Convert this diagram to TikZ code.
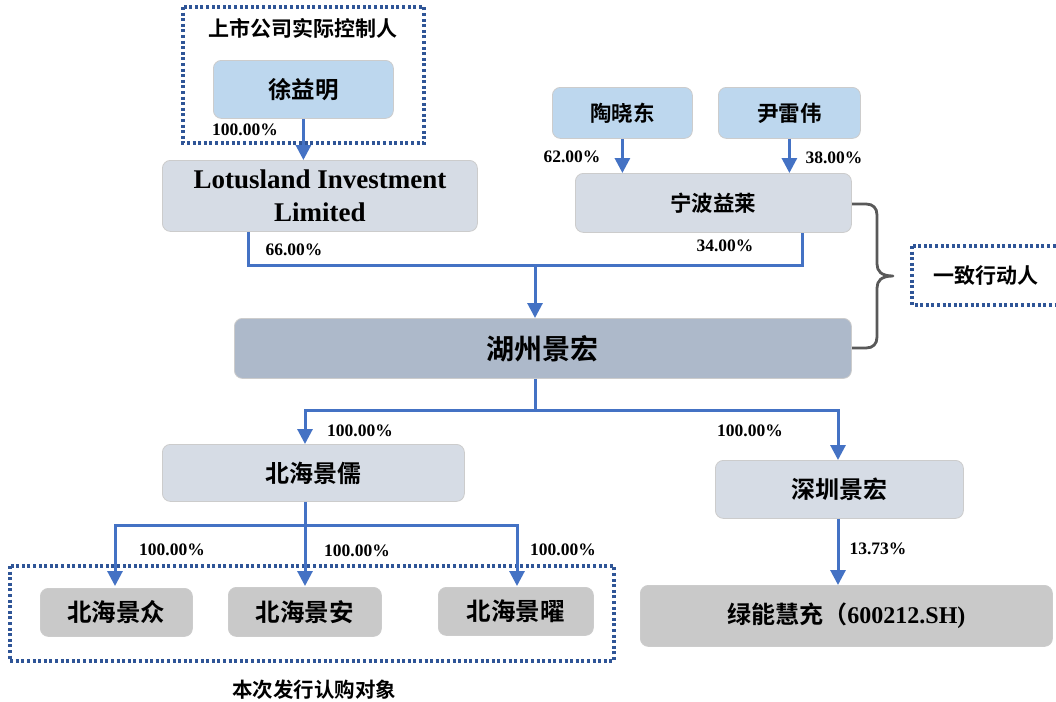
\documentclass[tikz,border=0pt]{standalone}
\usepackage{fontspec}
\setmainfont{Liberation Serif}
\newfontfamily\cjk{Noto Sans CJK SC}[BoldFont={Noto Sans CJK SC Bold}]
\usetikzlibrary{arrows.meta}
\definecolor{arrowblue}{HTML}{4472C4}
\definecolor{dotblue}{HTML}{2F5597}
\definecolor{lightblue}{HTML}{BDD7EE}
\definecolor{greyblue}{HTML}{D6DCE5}
\definecolor{darkgb}{HTML}{ADB9CA}
\definecolor{midgray}{HTML}{C9C9C9}
\tikzset{
  box/.style={rounded corners=8pt, draw=black!20, line width=0.8pt, inner sep=0pt, anchor=north west},
  conn/.style={draw=arrowblue, line width=3pt},
  arr/.style={conn, -{Triangle[length=15pt,width=15pt]}},
  pct/.style={font=\fontsize{17.5}{19}\selectfont\bfseries},
  dotbox/.style={draw=dotblue, line width=3.2pt, dash pattern=on 3pt off 2.6pt},
}
\newcommand{\cbox}[7]{% name, x1, y1, x2, y2, fill, text
  \node[box, fill=#6, minimum width={#4-#2}, minimum height={#5-#3}] (#1) at (#2,#3) {#7};}
\begin{document}
\begin{tikzpicture}[x=1pt,y=-1pt]
\useasboundingbox[fill=white] (0,0) rectangle (1056,701);
% dotted boxes
\draw[dotbox] (183,7) rectangle (424,143);
\node[font=\cjk\bfseries\fontsize{21}{23}\selectfont] (ctrl) at (303,28) {上市公司实际控制人};
\draw[dotbox] (912,246) rectangle (1062,305);
\draw[dotbox] (10,566) rectangle (614,661);
% boxes
\cbox{xu}{213}{60}{393}{118}{lightblue}{\cjk\bfseries\fontsize{23.5}{26}\selectfont 徐益明}
\cbox{lot}{162}{160}{477}{231}{greyblue}{\parbox{310pt}{\centering\bfseries\fontsize{27}{33}\selectfont Lotusland Investment\\Limited}}
\cbox{tao}{552}{87}{692}{138}{lightblue}{\cjk\bfseries\fontsize{21.5}{24}\selectfont 陶晓东}
\cbox{yin}{718}{87}{860}{138}{lightblue}{\cjk\bfseries\fontsize{21.5}{24}\selectfont 尹雷伟}
\cbox{nb}{575}{173}{851}{232}{greyblue}{\cjk\bfseries\fontsize{21.5}{24}\selectfont 宁波益莱}
\cbox{hz}{234}{318}{851}{378}{darkgb}{\cjk\bfseries\fontsize{28}{30}\selectfont 湖州景宏}
\cbox{bhr}{162}{444}{464}{501}{greyblue}{\cjk\bfseries\fontsize{24}{26}\selectfont 北海景儒}
\cbox{sz}{715}{460}{963}{518}{greyblue}{\cjk\bfseries\fontsize{24}{26}\selectfont 深圳景宏}
\cbox{bhz}{40}{588}{192}{636}{midgray}{\cjk\bfseries\fontsize{24.5}{26}\selectfont 北海景众}
\cbox{bha}{228}{587}{381}{636}{midgray}{\cjk\bfseries\fontsize{24.5}{26}\selectfont 北海景安}
\cbox{bhy}{438}{587}{593}{635}{midgray}{\cjk\bfseries\fontsize{24.5}{26}\selectfont 北海景曜}
\cbox{ln}{640}{585}{1052}{646}{midgray}{\bfseries\fontsize{24}{26}\selectfont{\cjk 绿能慧充（}600212.SH)}
\node[font=\cjk\bfseries\fontsize{21}{24}\selectfont] (yz) at (986,276) {一致行动人};
\node[font=\cjk\bfseries\fontsize{20.5}{23}\selectfont] (bc) at (314,690) {本次发行认购对象};
% connectors
\draw[arr] (xu.south) -- (lot.north -| xu.south);
\draw[arr] (tao.south) -- (nb.north -| tao.south);
\draw[arr] (yin.south) -- (nb.north -| yin.south);
\coordinate (j1) at (535,265);
\draw[conn] (lot.south -| 248,0) |- (j1) -| (nb.south -| 802,0);
\draw[arr] (j1) -- (hz.north -| j1);
\coordinate (j2) at (535,410);
\draw[conn] (hz.south -| j2) -- (j2);
\draw[arr] (j2) -| (bhr.north -| 305,0);
\draw[arr] (j2) -| (sz.north -| 838,0);
\coordinate (j3) at (305,525);
\draw[conn] (bhr.south -| j3) -- (j3);
\draw[arr] (j3) -| (115,586);
\draw[arr] (j3) -- (305,586);
\draw[arr] (j3) -| (517,586);
\draw[arr] (sz.south -| 838,0) -- (ln.north -| 838,0);
% brace
\draw[draw=black!65, line width=2.8pt, line join=round]
  (852,204) -- (866,204) .. controls (873,204) and (877,208) .. (877,215)
  -- (877,264) .. controls (877,271) and (881,276) .. (893,276)
  .. controls (881,276) and (877,281) .. (877,288)
  -- (877,337) .. controls (877,344) and (873,348) .. (866,348) -- (852,348);
% labels
\node[pct] (p1) at (245,130) {100.00\%};
\node[pct] (p2) at (572,157) {62.00\%};
\node[pct] (p3) at (834,158) {38.00\%};
\node[pct] (p4) at (294,250) {66.00\%};
\node[pct] (p5) at (725,246) {34.00\%};
\node[pct] (p6) at (360,431) {100.00\%};
\node[pct] (p7) at (750,431) {100.00\%};
\node[pct] (p8) at (172,550) {100.00\%};
\node[pct] (p9) at (357,551) {100.00\%};
\node[pct] (p10) at (563,550) {100.00\%};
\node[pct] (p11) at (878,549) {13.73\%};
\end{tikzpicture}
\end{document}
